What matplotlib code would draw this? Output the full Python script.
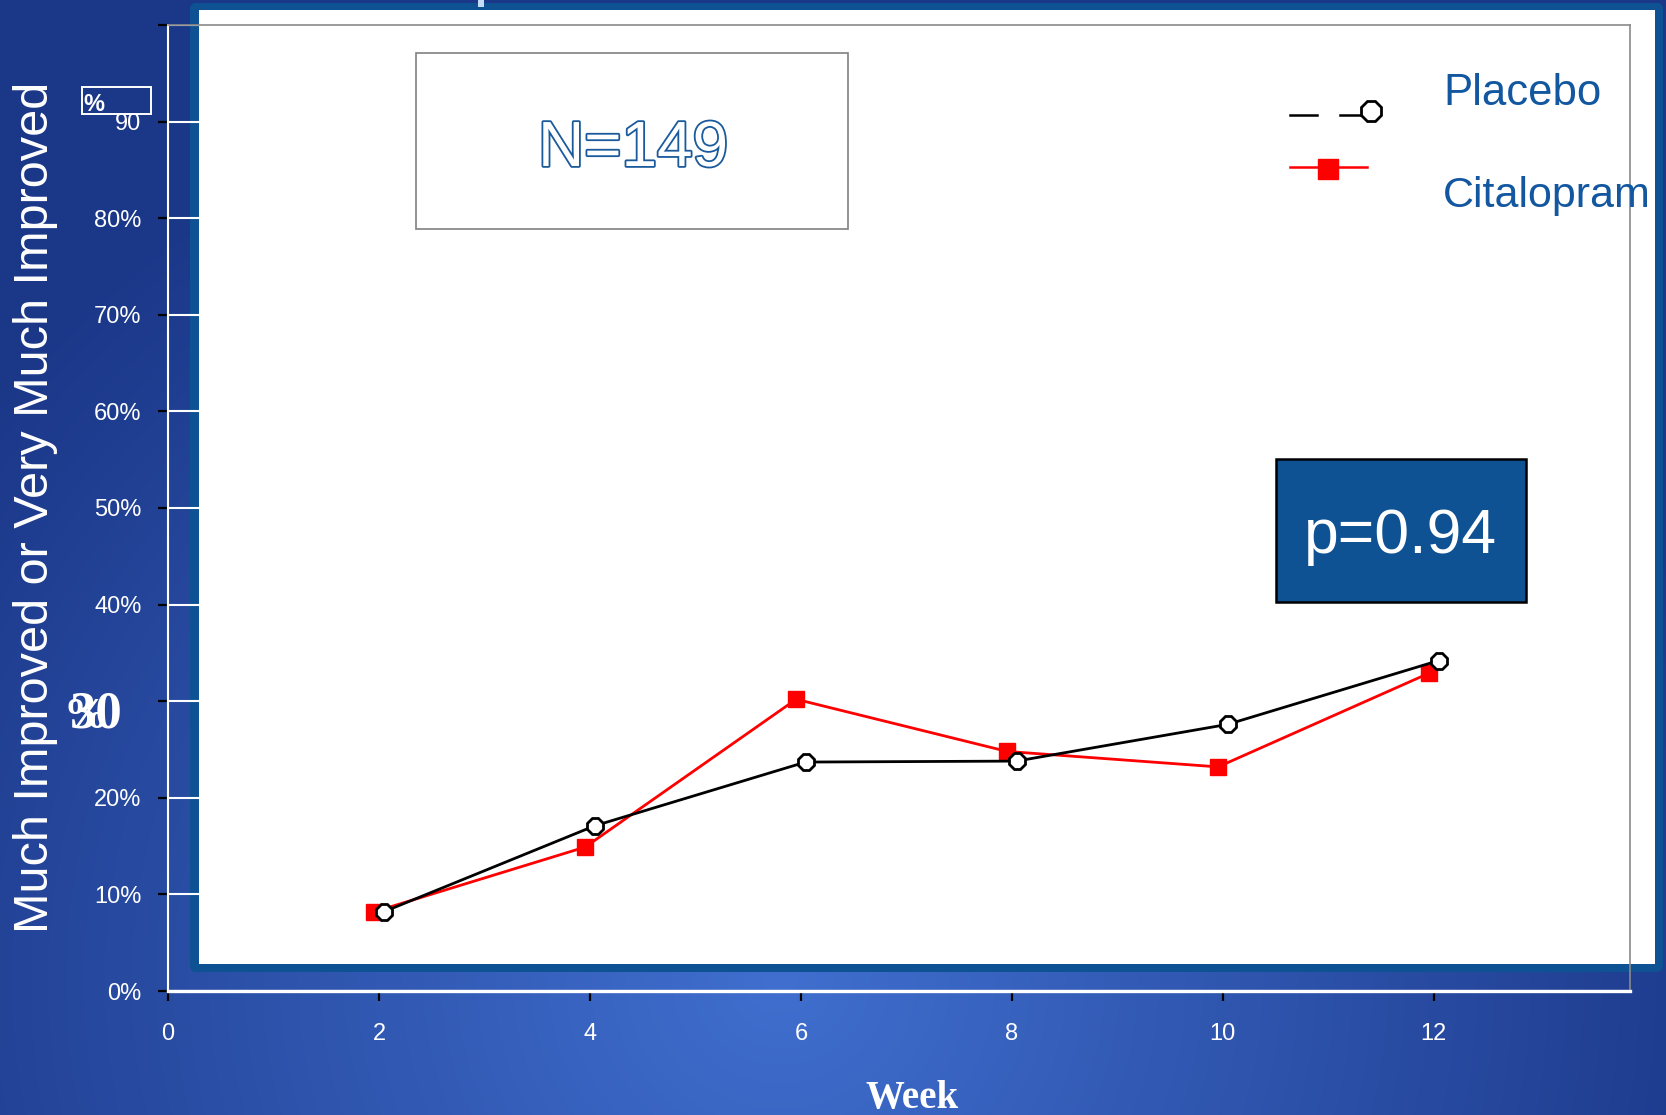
import numpy as np
import matplotlib
matplotlib.use('Agg')
import matplotlib.pyplot as plt
import matplotlib.patheffects as pe
from matplotlib.patches import Rectangle, FancyBboxPatch
from matplotlib.lines import Line2D

plt.rcParams['font.family'] = ['Liberation Sans', 'DejaVu Sans']

# data (percent responders per visit)
weeks = np.array([2, 4, 6, 8, 10, 12])
placebo = [8.2, 17.1, 23.7, 23.8, 27.6, 34.2]
citalopram = [8.2, 14.9, 30.2, 24.8, 23.2, 32.9]

y_ticks = [0, 10, 20, 30, 40, 50, 60, 70, 80, 90, 100]
y_tick_labels = ['0%', '10%', '20%', '', '40%', '50%', '60%', '70%', '80%', '90', '']
x_ticks = [0, 2, 4, 6, 8, 10, 12]

W, H = 1666, 1115
DARK_BLUE = '#0e5294'
TEXT_BLUE = '#12579f'

fig = plt.figure(figsize=(W / 100, H / 100), dpi=100)

# --- slide background: radial blue gradient + framed white panel ---
bg = fig.add_axes([0, 0, 1, 1], zorder=0)
bg.set_xlim(0, W)
bg.set_ylim(H, 0)
bg.axis('off')
yy, xx = np.mgrid[0:H, 0:W]
r = np.clip(np.sqrt(((xx - 780) / 1000.0) ** 2 + ((yy - 980) / 950.0) ** 2), 0, 1)
light = np.array([0x40, 0x6f, 0xcf]) / 255.0
dark = np.array([0x1b, 0x37, 0x88]) / 255.0
bg.imshow(light + (dark - light) * r[..., None], extent=(0, W, H, 0), aspect='auto')
bg.add_patch(FancyBboxPatch((190, 3), 1473, 969, boxstyle='round,pad=0,rounding_size=6',
                            fc=DARK_BLUE, ec='none'))
bg.add_patch(Rectangle((199, 10), 1456, 954, fc='white', ec='none'))
bg.add_patch(Rectangle((478, 0), 6, 7, fc='#c4dcf6', ec='none'))

# --- main chart ---
ax = fig.add_axes([168 / W, 124 / H, 1462 / W, 966 / H], zorder=1)
ax.patch.set_alpha(0)
ax.set_xlim(0, 13.86)
ax.set_ylim(0, 100)

dodge = 0.045
ax.plot(weeks - dodge, citalopram, color='red', lw=2, marker='s', ms=12,
        mfc='red', mec='red', zorder=4, clip_on=False)
ax.plot(weeks + dodge, placebo, color='black', lw=2, marker='8', ms=12.5,
        mfc='white', mec='black', mew=2, zorder=5, clip_on=False)

ax.set_yticks(y_ticks)
ax.set_yticklabels(y_tick_labels, color='white', fontsize=17)
ax.set_xticks(x_ticks)
ax.set_xticklabels([str(t) for t in x_ticks], color='white', fontsize=17)
ax.tick_params(axis='y', direction='out', length=7, width=1.6, color='black', pad=12)
ax.tick_params(axis='x', direction='out', length=7, width=1.6, color='black', pad=16)
ax.xaxis.get_major_ticks()[0].tick1line.set_color('white')

ax.grid(axis='y', color='white', lw=1.5)
ax.set_axisbelow(True)

ax.spines['left'].set_color('white')
ax.spines['left'].set_linewidth(1.5)
ax.spines['bottom'].set_color('white')
ax.spines['bottom'].set_linewidth(2.4)
for s in ('top', 'right'):
    ax.spines[s].set_color('#8a8a8a')
    ax.spines[s].set_linewidth(1.2)

# --- overlay: text boxes, legend, labels (pixel coordinates) ---
ov = fig.add_axes([0, 0, 1, 1], zorder=2)
ov.set_xlim(0, W)
ov.set_ylim(H, 0)
ov.axis('off')
ov.patch.set_alpha(0)

ov.add_patch(Rectangle((416, 53), 432, 176, fc='white', ec='#808080', lw=1.2))
ov.text(633, 166, 'N=149', fontsize=46, color='white', ha='center', va='baseline',
        path_effects=[pe.withStroke(linewidth=2.6, foreground='#1a5a9c')])

ov.add_patch(Rectangle((1276, 459), 250, 143, fc=DARK_BLUE, ec='black', lw=1.8))
ov.text(1401, 553, 'p=0.94', fontsize=45, color='white', ha='center', va='baseline')

# legend drawn by hand, like the slide
ov.add_line(Line2D([1290, 1317], [115, 115], color='black', lw=1.8))
ov.add_line(Line2D([1340, 1366], [115, 115], color='black', lw=1.8))
ov.add_line(Line2D([1371], [111], marker='8', ms=15, mfc='white', mec='black', mew=2))
ov.add_line(Line2D([1290, 1367], [167, 167], color='red', lw=1.8))
ov.add_line(Line2D([1328], [169], marker='s', ms=14, mfc='red', mec='red'))
ov.text(1443, 105, 'Placebo', fontsize=31.5, color=TEXT_BLUE, ha='left', va='baseline')
ov.text(1443, 207, 'Citalopram', fontsize=31, color=TEXT_BLUE, ha='left', va='baseline')

# stray "%" box and overlapping "30" label left over on the slide
ov.add_patch(Rectangle((82, 87), 69, 27, fc='none', ec='white', lw=1.4))
ov.text(83, 111, '%', fontsize=17, fontweight='bold', color='white', ha='left', va='baseline')
ov.text(96, 728, '30', fontsize=38, fontweight='bold', color='white', ha='center',
        va='baseline', family='Liberation Serif')
ov.text(86, 728, '%', fontsize=32, fontweight='bold', color='white', ha='center',
        va='baseline', family='Liberation Serif')

ov.text(36, 507, 'Much Improved or Very Much Improved', fontsize=35, color='white',
        rotation=90, ha='center', va='center')
ov.text(912, 1108, 'Week', fontsize=28, fontweight='bold', color='white', ha='center',
        va='baseline', family='Liberation Serif')

fig.savefig('out.png', dpi=100)
